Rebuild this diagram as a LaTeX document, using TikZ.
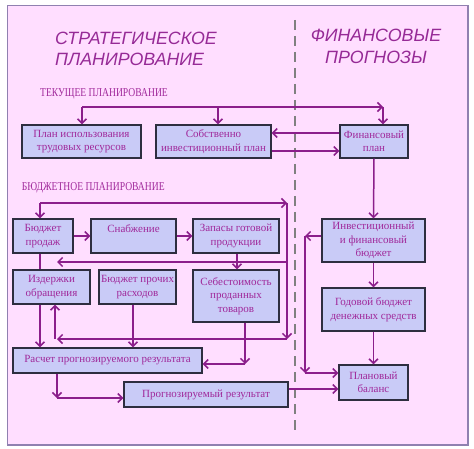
\documentclass[tikz,border=0pt]{standalone}
\usepackage{fontspec}
\setmainfont{Liberation Serif}
\newfontfamily\headfont{Liberation Sans}
\usetikzlibrary{arrows.meta,calc}
\definecolor{bgpink}{HTML}{FFDEFF}
\definecolor{boxfill}{HTML}{C9CBF7}
\definecolor{boxdraw}{HTML}{2E2E40}
\definecolor{textc}{HTML}{A0289A}
\definecolor{arrowc}{HTML}{8B1E8B}
\definecolor{headc}{HTML}{962A96}
\definecolor{framec}{HTML}{9080B0}
\definecolor{dashc}{HTML}{808080}
\begin{document}
\begin{tikzpicture}[x=1pt,y=-1pt,
  box/.style={draw=boxdraw, fill=boxfill, line width=1.3pt, text=textc,
    font=\fontsize{11}{13.5}\selectfont, align=center, inner sep=0pt},
  arr/.style={draw=arrowc, line width=1.5pt, -{Straight Barb[length=4.5pt,width=9pt]}},
  ln/.style={draw=arrowc, line width=1.5pt},
  head/.style={text=headc, font=\headfont\itshape\fontsize{17.8}{22}\selectfont, inner sep=0pt},
  sect/.style={text=textc, font=\fontsize{12}{14}\selectfont, inner sep=0pt}]
\useasboundingbox (0,0) rectangle (474,449);
\fill[white] (0,0) rectangle (474,449);
\draw[framec, fill=bgpink, line width=1.5pt] (7.5,5.5) rectangle (468,445);
\draw[dashc, line width=1.8pt, dash pattern=on 10pt off 6pt] (295,20) -- (295,436);

% headings
\node[head, anchor=base west] (h1) at (55,45) {СТРАТЕГИЧЕСКОЕ};
\node[head, anchor=base west] (h2) at (55,65.5) {ПЛАНИРОВАНИЕ};
\node[head, anchor=base] (h3) at (376,42) {ФИНАНСОВЫЕ};
\node[head, anchor=base] (h4) at (376,63.5) {ПРОГНОЗЫ};
\node[sect, anchor=base west] (s1) at (40,96.7) {\scalebox{0.8}[1]{ТЕКУЩЕЕ ПЛАНИРОВАНИЕ}};
\node[sect, anchor=base west] (s2) at (21.7,191) {\scalebox{0.8}[1]{БЮДЖЕТНОЕ ПЛАНИРОВАНИЕ}};

% boxes
\node[box, minimum width=119pt, minimum height=33pt] (trud) at (81.5,141.5) {План использования\\трудовых ресурсов};
\node[box, minimum width=115pt, minimum height=33pt] (inv) at (213.5,141.5) {Собственно\\инвестиционный план};
\node[box, minimum width=68pt, minimum height=33pt] (fin) at (374,141.5) {Финансовый\\план};
\node[box, minimum width=60pt, minimum height=34pt] (bp) at (43,236) {Бюджет\\продаж};
\node[box, minimum width=85pt, minimum height=34pt] (snab) at (133.5,236) {Снабжение\\[2pt]\mbox{}};
\node[box, minimum width=86pt, minimum height=34pt] (zap) at (236,236) {Запасы готовой\\продукции};
\node[box, minimum width=77pt, minimum height=34pt] (izd) at (51.5,287) {Издержки\\обращения};
\node[box, minimum width=77pt, minimum height=34pt] (proch) at (137.5,287) {Бюджет прочих\\расходов};
\node[box, minimum width=86pt, minimum height=52pt] (seb) at (236,296) {Себестоимость\\проданных\\товаров};
\node[box, minimum width=189pt, minimum height=25pt] (ras) at (107.5,360.5) {Расчет прогнозируемого результата};
\node[box, minimum width=164pt, minimum height=25pt] (prog) at (206,394.5) {Прогнозируемый результат};
\node[box, minimum width=103pt, minimum height=43pt] (ifb) at (373.5,240.5) {Инвестиционный\\и финансовый\\бюджет};
\node[box, minimum width=103pt, minimum height=43pt] (god) at (373.5,309.5) {Годовой бюджет\\денежных средств};
\node[box, minimum width=69pt, minimum height=35pt] (pb) at (373.5,382.5) {Плановый\\баланс};

% helper coordinates
\coordinate (t1) at (82,107);
\coordinate (t2) at (218,107);
\coordinate (t3) at (383,107);
\coordinate (y133) at (0,133);
\coordinate (y151) at (0,151);
\coordinate (b1) at (40,203);
\coordinate (b2) at (287,203);
\coordinate (b3) at (287,339);
\coordinate (b4) at (57,339);
\coordinate (b5) at (55,339);
\coordinate (c1) at (287,262);
\coordinate (c2) at (57,262);
\coordinate (x40) at (40,0);
\coordinate (x133) at (133,0);
\coordinate (x237) at (237,0);
\coordinate (s1c) at (245,364);
\coordinate (r1) at (57,398);
\coordinate (y389) at (0,389);
\coordinate (f1) at (305,236);
\coordinate (f2) at (305,373);

% current planning
\draw[arr] (t1) -- (t3);
\draw[arr] (t1) -- (trud.north -| t1);
\draw[arr] (t2) -- (inv.north -| t2);
\draw[arr] (t3) -- (fin.north -| t3);
\draw[arr] (fin.west |- y133) -- (inv.east |- y133);
\draw[arr] (inv.east |- y151) -- (fin.west |- y151);

% budget planning
\draw[arr] (b1) -- (b2);
\draw[arr] (b1) -- (bp.north -| b1);
\draw[arr] (b2) -- (b3);
\draw[arr] (b3) -- (b4);
\draw[arr] (b5) -- (izd.south -| b5);
\draw[arr] (c1) -- (c2);
\draw[arr] (bp.east) -- (snab.west);
\draw[arr] (snab.east) -- (zap.west);
\draw[ln] (bp.south -| x40) -- (izd.north -| x40);
\draw[arr] (izd.south -| x40) -- (ras.north -| x40);
\draw[arr] (zap.south -| x237) -- (seb.north -| x237);
\draw[arr] (proch.south -| x133) -- (ras.north -| x133);
\draw[arr] (seb.south -| s1c) -- (s1c);
\draw[arr] (s1c) -- (ras.east |- s1c);
\draw[arr] (ras.south -| r1) -- (r1);
\draw[arr] (r1) -- (prog.west |- r1);
\draw[arr] (prog.east |- y389) -- (pb.west |- y389);

% financial forecasts
\draw[arr] (fin.south) -- (ifb.north);
\draw[arr] (ifb.south) -- (god.north);
\draw[arr] (god.south) -- (pb.north);
\draw[arr] (ifb.west |- f1) -- (f1);
\draw[arr] (f1) -- (f2);
\draw[arr] (f2) -- (pb.west |- f2);
\end{tikzpicture}
\end{document}
